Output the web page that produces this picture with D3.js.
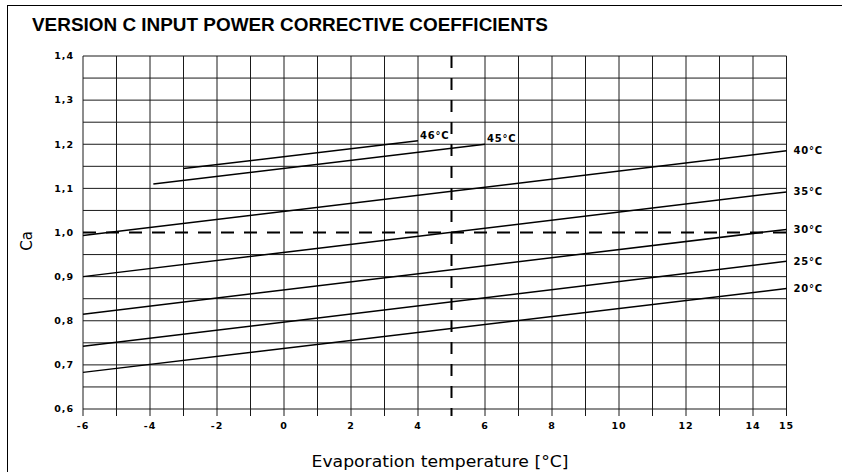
<!DOCTYPE html>
<html>
<head>
<meta charset="utf-8">
<script src="https://cdn.jsdelivr.net/npm/d3@7"></script>
<style>
  body { margin: 0; background: #fff; }
  svg { display: block; }
</style>
</head>
<body>
<div id="chart"></div>
<script>
// values
const xTicks = [-6, -4, -2, 0, 2, 4, 6, 8, 10, 12, 14, 15];
const yTicks = [0.6, 0.7, 0.8, 0.9, 1.0, 1.1, 1.2, 1.3, 1.4];
const seriesNames = ['20°C', '25°C', '30°C', '35°C', '40°C', '45°C', '46°C'];
const seriesX = [[-6, 15], [-6, 15], [-6, 15], [-6, 15], [-6, 15], [-3.9, 6], [-3, 4]];
const seriesCa = [
  [0.683, 0.873],
  [0.742, 0.935],
  [0.815, 1.007],
  [0.9, 1.092],
  [0.993, 1.185],
  [1.11, 1.2],
  [1.145, 1.208],
];
const refX = 5;
const refCa = 1.0;

const width = 842,
  height = 472;
const margin = { top: 56, right: 56, bottom: 63, left: 83 };

const svg = d3
  .select('#chart')
  .append('svg')
  .attr('width', width)
  .attr('height', height);

// outer frame
svg
  .append('rect')
  .attr('x', 7.5)
  .attr('y', 5.5)
  .attr('width', 840)
  .attr('height', 480)
  .attr('fill', 'none')
  .attr('stroke', '#000')
  .attr('stroke-width', 1);

svg
  .append('text')
  .attr('x', 32)
  .attr('y', 31)
  .attr('font-family', 'Liberation Sans, Arial, sans-serif')
  .attr('font-weight', 'bold')
  .attr('font-size', 18)
  .attr('textLength', 516)
  .attr('lengthAdjust', 'spacingAndGlyphs')
  .text('VERSION C INPUT POWER CORRECTIVE COEFFICIENTS');

const x = d3.scaleLinear().domain([-6, 15]).range([margin.left, width - margin.right + 0.5]);
const y = d3.scaleLinear().domain([0.6, 1.4]).range([height - margin.bottom, margin.top]);

const g = svg.append('g');

// grid: every 1 °C and every 0.05
const gridX = d3.range(-6, 15.5, 1);
const gridY = d3.range(0, 17).map((i) => 0.6 + i * 0.05);

g.selectAll('.vgrid')
  .data(gridX.filter((d) => d !== refX))
  .enter()
  .append('line')
  .attr('class', 'vgrid')
  .attr('x1', (d) => x(d))
  .attr('x2', (d) => x(d))
  .attr('y1', y(1.4))
  .attr('y2', y(0.6) + 7)
  .attr('stroke', '#1a1a1a')
  .attr('stroke-width', 1);

g.selectAll('.hgrid')
  .data(gridY.filter((d) => Math.abs(d - refCa) > 1e-6))
  .enter()
  .append('line')
  .attr('class', 'hgrid')
  .attr('x1', x(-6))
  .attr('x2', x(15))
  .attr('y1', (d) => y(d))
  .attr('y2', (d) => y(d))
  .attr('stroke', '#1a1a1a')
  .attr('stroke-width', 1);

// dashed reference lines
g.append('line')
  .attr('x1', x(refX))
  .attr('x2', x(refX))
  .attr('y1', y(1.4))
  .attr('y2', y(0.6) + 7)
  .attr('stroke', '#000')
  .attr('stroke-width', 2)
  .attr('stroke-dasharray', '12,10');

g.append('line')
  .attr('x1', x(-6))
  .attr('x2', x(15))
  .attr('y1', y(refCa))
  .attr('y2', y(refCa))
  .attr('stroke', '#000')
  .attr('stroke-width', 2)
  .attr('stroke-dasharray', '13,10');

// axes labels
const tickFont = 'DejaVu Sans, Verdana, sans-serif';

g.selectAll('.ylab')
  .data(yTicks)
  .enter()
  .append('text')
  .attr('x', margin.left - 9)
  .attr('y', (d) => y(d))
  .attr('dy', '0.35em')
  .attr('text-anchor', 'end')
  .attr('font-family', tickFont)
  .attr('font-weight', 'bold')
  .attr('font-size', 9.5)
  .attr('letter-spacing', 1)
  .text((d) => d.toFixed(1).replace('.', ','));

g.selectAll('.xlab')
  .data(xTicks)
  .enter()
  .append('text')
  .attr('x', (d) => x(d))
  .attr('y', y(0.6) + 20)
  .attr('text-anchor', 'middle')
  .attr('font-family', tickFont)
  .attr('font-weight', 'bold')
  .attr('font-size', 9.5)
  .attr('letter-spacing', 1)
  .text((d) => d);

svg
  .append('text')
  .attr('x', 440)
  .attr('y', 467)
  .attr('text-anchor', 'middle')
  .attr('font-family', 'DejaVu Sans, sans-serif')
  .attr('font-size', 15)
  .attr('textLength', 257)
  .attr('lengthAdjust', 'spacingAndGlyphs')
  .text('Evaporation temperature [°C]');

svg
  .append('text')
  .attr('transform', 'translate(32,241) rotate(-90)')
  .attr('text-anchor', 'middle')
  .attr('font-family', 'DejaVu Sans, sans-serif')
  .attr('font-size', 15)
  .text('Ca');

// coefficient lines
const series = seriesNames.map((name, i) => ({
  name: name,
  points: seriesX[i].map((v, j) => [v, seriesCa[i][j]]),
}));

const line = d3
  .line()
  .x((d) => x(d[0]))
  .y((d) => y(d[1]));

g.selectAll('.curve')
  .data(series)
  .enter()
  .append('path')
  .attr('class', 'curve')
  .attr('d', (d) => line(d.points))
  .attr('fill', 'none')
  .attr('stroke', '#000')
  .attr('stroke-width', 1.5);

g.selectAll('.curve-label')
  .data(series)
  .enter()
  .append('text')
  .attr('class', 'curve-label')
  .attr('x', (d) => {
    const last = d.points[d.points.length - 1];
    return x(last[0]) + (last[0] === 15 ? 7 : 2);
  })
  .attr('y', (d) => {
    const last = d.points[d.points.length - 1];
    return last[0] === 15 ? y(last[1]) : y(last[1]) - 2;
  })
  .attr('dy', (d) => (d.points[d.points.length - 1][0] === 15 ? '0.35em' : 0))
  .attr('font-family', tickFont)
  .attr('font-weight', 'bold')
  .attr('font-size', 10)
  .attr('letter-spacing', 0.8)
  .text((d) => d.name);
</script>
</body>
</html>
